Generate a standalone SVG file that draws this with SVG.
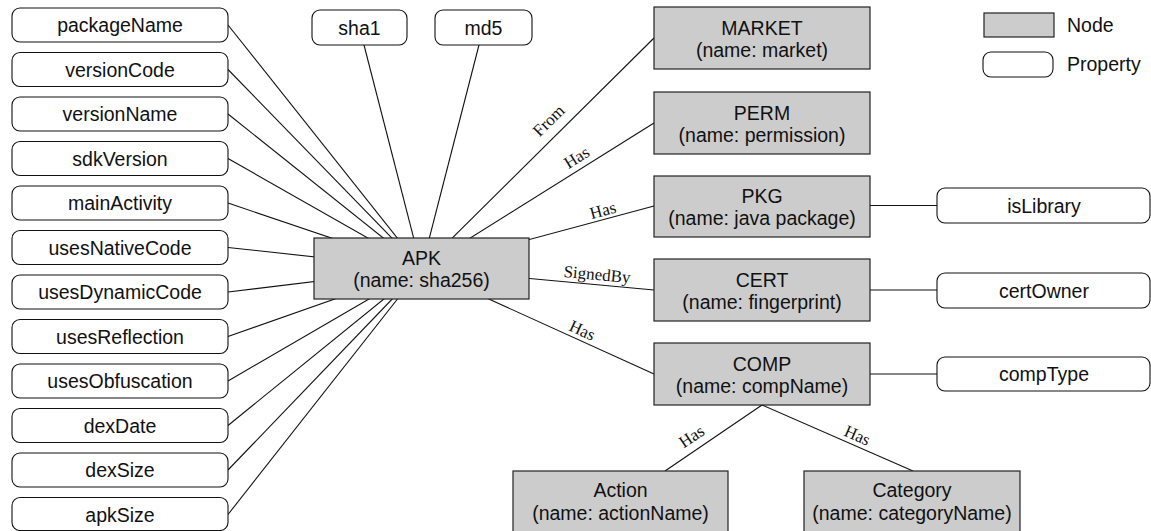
<svg xmlns="http://www.w3.org/2000/svg" width="1151" height="531" viewBox="0 0 1151 531">
<style>
.node rect{fill:#cccccc;stroke:#222;stroke-width:1.2}
.prop rect{fill:#fff;stroke:#111;stroke-width:1.1}
text{font-family:"Liberation Sans",Arial,sans-serif;font-size:19.5px;fill:#111;text-anchor:middle}
.lbl{font-family:"Liberation Serif","Times New Roman",serif;font-size:17px}
#connectors line{stroke:#111;stroke-width:1.1}
</style>
<rect width="1151" height="531" fill="#fff"/>
<g id="connectors">
<line x1="228" y1="25" x2="421.5" y2="268.5"/>
<line x1="228" y1="69.5" x2="421.5" y2="268.5"/>
<line x1="228" y1="114" x2="421.5" y2="268.5"/>
<line x1="228" y1="158.5" x2="421.5" y2="268.5"/>
<line x1="228" y1="203" x2="421.5" y2="268.5"/>
<line x1="228" y1="247.5" x2="421.5" y2="268.5"/>
<line x1="228" y1="292" x2="421.5" y2="268.5"/>
<line x1="228" y1="336.5" x2="421.5" y2="268.5"/>
<line x1="228" y1="381" x2="421.5" y2="268.5"/>
<line x1="228" y1="425.5" x2="421.5" y2="268.5"/>
<line x1="228" y1="470" x2="421.5" y2="268.5"/>
<line x1="228" y1="514.5" x2="421.5" y2="268.5"/>
<line x1="359.5" y1="27.5" x2="421.5" y2="268.5"/>
<line x1="483.5" y1="27.5" x2="421.5" y2="268.5"/>
<line x1="654" y1="38" x2="421.5" y2="268.5"/>
<line x1="654" y1="123" x2="421.5" y2="268.5"/>
<line x1="654" y1="206" x2="421.5" y2="268.5"/>
<line x1="654" y1="290" x2="421.5" y2="268.5"/>
<line x1="654" y1="374" x2="421.5" y2="268.5"/>
<line x1="870" y1="205.5" x2="937" y2="205.5"/>
<line x1="870" y1="290" x2="937" y2="290"/>
<line x1="870" y1="374" x2="937" y2="374"/>
<line x1="762" y1="405" x2="665" y2="471"/>
<line x1="762" y1="405" x2="913" y2="471"/>
<g class="labels">
<text class="lbl" transform="translate(549,121) rotate(-44.7)" y="5">From</text>
<text class="lbl" transform="translate(577,158) rotate(-32)" y="5">Has</text>
<text class="lbl" transform="translate(603,211) rotate(-15)" y="5">Has</text>
<text class="lbl" transform="translate(597,275) rotate(5.3)" y="5">SignedBy</text>
<text class="lbl" transform="translate(582,331) rotate(24.4)" y="5">Has</text>
<text class="lbl" transform="translate(692,437) rotate(-34)" y="5">Has</text>
<text class="lbl" transform="translate(857,436) rotate(23.6)" y="5">Has</text>
</g>
</g>
<g id="p-packageName" class="prop"><rect x="12" y="8" width="216" height="34" rx="8"/><text x="120" y="32">packageName</text></g>
<g id="p-versionCode" class="prop"><rect x="12" y="52.5" width="216" height="34" rx="8"/><text x="120" y="76.5">versionCode</text></g>
<g id="p-versionName" class="prop"><rect x="12" y="97" width="216" height="34" rx="8"/><text x="120" y="121">versionName</text></g>
<g id="p-sdkVersion" class="prop"><rect x="12" y="141.5" width="216" height="34" rx="8"/><text x="120" y="165.5">sdkVersion</text></g>
<g id="p-mainActivity" class="prop"><rect x="12" y="186" width="216" height="34" rx="8"/><text x="120" y="210">mainActivity</text></g>
<g id="p-usesNativeCode" class="prop"><rect x="12" y="230.5" width="216" height="34" rx="8"/><text x="120" y="254.5">usesNativeCode</text></g>
<g id="p-usesDynamicCode" class="prop"><rect x="12" y="275" width="216" height="34" rx="8"/><text x="120" y="299">usesDynamicCode</text></g>
<g id="p-usesReflection" class="prop"><rect x="12" y="319.5" width="216" height="34" rx="8"/><text x="120" y="343.5">usesReflection</text></g>
<g id="p-usesObfuscation" class="prop"><rect x="12" y="364" width="216" height="34" rx="8"/><text x="120" y="388">usesObfuscation</text></g>
<g id="p-dexDate" class="prop"><rect x="12" y="408.5" width="216" height="34" rx="8"/><text x="120" y="432.5">dexDate</text></g>
<g id="p-dexSize" class="prop"><rect x="12" y="453" width="216" height="34" rx="8"/><text x="120" y="477">dexSize</text></g>
<g id="p-apkSize" class="prop"><rect x="12" y="497.5" width="216" height="33" rx="8"/><text x="120" y="521.5">apkSize</text></g>
<g id="p-sha1" class="prop"><rect x="312" y="10" width="95" height="35" rx="8"/><text x="359.5" y="34.5">sha1</text></g>
<g id="p-md5" class="prop"><rect x="435" y="10" width="97" height="35" rx="8"/><text x="483.5" y="34.5">md5</text></g>
<g id="n-APK" class="node"><rect x="314" y="238" width="215" height="61"/><text x="421.5" y="265">APK</text><text x="421.5" y="287">(name: sha256)</text></g>
<g id="n-MARKET" class="node"><rect x="654" y="7" width="216" height="62"/><text x="762" y="35">MARKET</text><text x="762" y="57">(name: market)</text></g>
<g id="n-PERM" class="node"><rect x="654" y="92" width="216" height="62"/><text x="762" y="120">PERM</text><text x="762" y="142">(name: permission)</text></g>
<g id="n-PKG" class="node"><rect x="654" y="176" width="216" height="61"/><text x="762" y="203">PKG</text><text x="762" y="225">(name: java package)</text></g>
<g id="n-CERT" class="node"><rect x="654" y="259" width="216" height="62"/><text x="762" y="287">CERT</text><text x="762" y="309">(name: fingerprint)</text></g>
<g id="n-COMP" class="node"><rect x="654" y="343" width="216" height="62"/><text x="762" y="371">COMP</text><text x="762" y="393">(name: compName)</text></g>
<g id="n-Action" class="node"><rect x="513" y="471" width="215" height="72"/><text x="620.5" y="497">Action</text><text x="620.5" y="520">(name: actionName)</text></g>
<g id="n-Category" class="node"><rect x="804" y="471" width="216" height="72"/><text x="912" y="497">Category</text><text x="912" y="520">(name: categoryName)</text></g>
<g id="p-isLibrary" class="prop"><rect x="937" y="188" width="213" height="35" rx="8"/><text x="1044" y="212.5">isLibrary</text></g>
<g id="p-certOwner" class="prop"><rect x="937" y="273" width="213" height="35" rx="8"/><text x="1044" y="297.5">certOwner</text></g>
<g id="p-compType" class="prop"><rect x="937" y="357" width="213" height="34" rx="8"/><text x="1044" y="381">compType</text></g>
<g id="legend">
<g class="node"><rect x="984" y="13" width="70" height="24"/></g>
<text x="1067" y="32" style="text-anchor:start">Node</text>
<g class="prop"><rect x="983" y="52" width="70" height="25" rx="8"/></g>
<text x="1067" y="71" style="text-anchor:start">Property</text>
</g>
</svg>
